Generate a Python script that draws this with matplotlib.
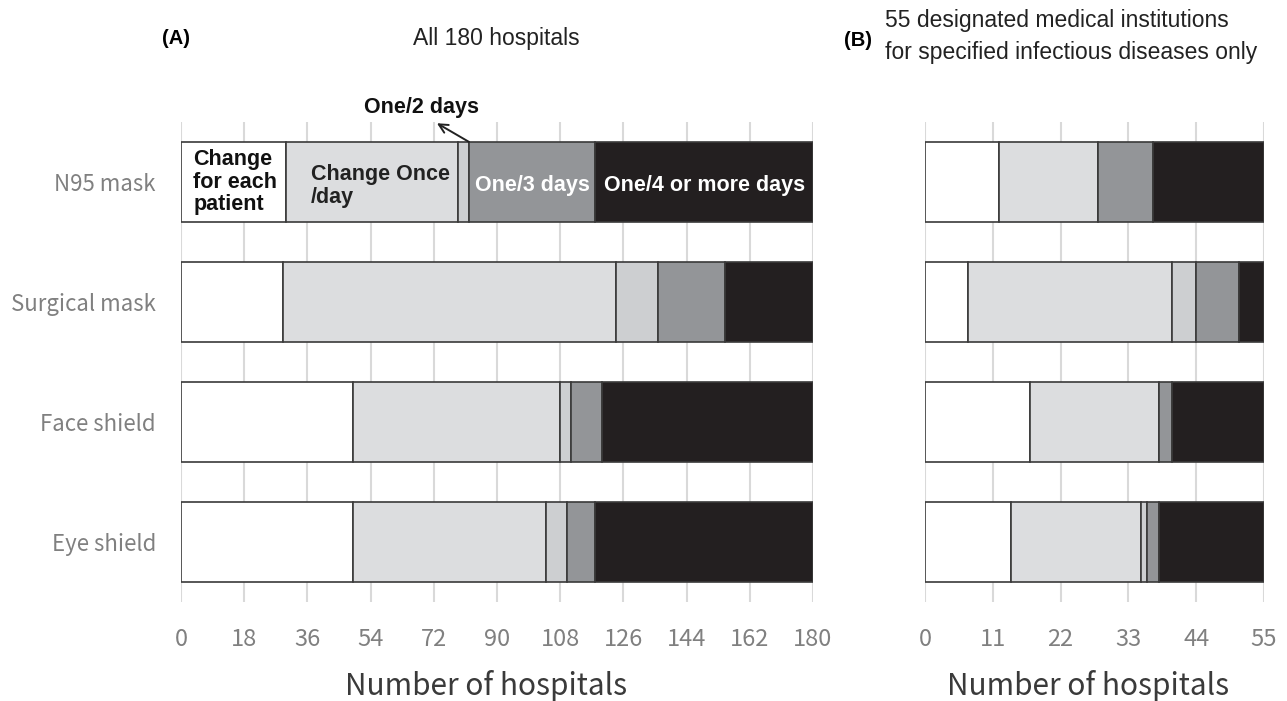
import matplotlib
matplotlib.use("Agg")
import matplotlib.pyplot as plt
import numpy as np

# PPE replacement frequency, number of hospitals per item
items = ["N95 mask", "Surgical mask", "Face shield", "Eye shield"]
freq_labels = ["Change for each patient", "Change once/day", "One/2 days",
               "One/3 days", "One/4 or more days"]

# (A) all 180 hospitals
all_each = [30, 29, 49, 49]
all_once = [49, 95, 59, 55]
all_2days = [3, 12, 3, 6]
all_3days = [36, 19, 9, 8]
all_4days = [62, 25, 60, 62]

# (B) 55 designated medical institutions
des_each = [12, 7, 17, 14]
des_once = [16, 33, 21, 21]
des_2days = [0, 4, 0, 1]
des_3days = [9, 7, 2, 2]
des_4days = [18, 4, 15, 17]

colors = ["#ffffff", "#dcdddf", "#cdcfd1", "#939598", "#231f20"]
edge = "#3a3a3a"
tick_grey = "#808080"
label_font = ["Noto Sans CJK JP", "DejaVu Sans"]
cond_font = ["Liberation Sans Narrow", "Liberation Sans", "DejaVu Sans"]

fig = plt.figure(figsize=(12.87, 7.01), dpi=100)
axA = fig.add_axes([0.1406, 0.1412, 0.4911, 0.6847])
axB = fig.add_axes([0.7187, 0.1412, 0.2634, 0.6847])


def draw_panel(ax, series, total, step, show_items):
    y = np.arange(len(items))
    left = np.zeros(len(items))
    for vals, c, name in zip(series, colors, freq_labels):
        ax.barh(y, vals, left=left, height=0.66, color=c, edgecolor=edge,
                linewidth=1.2, label=name, zorder=3)
        left += np.array(vals)
    ax.set_xlim(0, total)
    ax.set_ylim(len(items) - 0.5, -0.5)
    ax.set_xticks(np.arange(0, total + 1, step))
    ax.grid(axis="x", color="#d9d9d9", linewidth=1.5, zorder=0)
    ax.set_axisbelow(True)
    for s in ax.spines.values():
        s.set_visible(False)
    ax.tick_params(axis="both", length=0, labelcolor=tick_grey)
    ax.tick_params(axis="x", pad=19, labelsize=17)
    ax.set_yticks(y)
    if show_items:
        ax.set_yticklabels(items, fontsize=16, family=label_font)
        ax.tick_params(axis="y", pad=18)
    else:
        ax.set_yticklabels([])
    for t in ax.get_xticklabels():
        t.set_family(label_font)
    ax.set_xlabel("Number of hospitals", fontsize=21.5, color="#3a3a3a",
                  family=label_font)
    ax.xaxis.set_label_coords(0.482, -0.142)


seriesA = [all_each, all_once, all_2days, all_3days, all_4days]
seriesB = [des_each, des_once, des_2days, des_3days, des_4days]
draw_panel(axA, seriesA, 180, 18, True)
draw_panel(axB, seriesB, 55, 11, False)

# category labels written on the N95 bar of panel A
c1 = all_each[0]
c2 = c1 + all_once[0]
c3 = c2 + all_2days[0]
c4 = c3 + all_3days[0]
c5 = c4 + all_4days[0]
bold = dict(fontsize=15.5, fontweight="bold", family=cond_font, zorder=5)
axA.text(3.5, 0, "Change\nfor each\npatient", ha="left", va="center",
         color="#111111", linespacing=1.12, **bold)
axA.text(c1 + 7, 0.03, "Change Once\n/day", ha="left", va="center",
         color="#222222", linespacing=1.12, **bold)
axA.text((c3 + c4) / 2, 0.03, "One/3 days", ha="center", va="center",
         color="white", **bold)
axA.text((c4 + c5) / 2, 0.03, "One/4 or more days", ha="center",
         va="center", color="white", **bold)
axA.text(68.6, -0.625, "One/2 days", ha="center", va="center",
         color="#111111", clip_on=False, **bold)
axA.annotate("", xy=(72.9, -0.49), xytext=(c3, -0.335),
             arrowprops=dict(arrowstyle="->", color="#222222", lw=1.4,
                             shrinkA=0, shrinkB=0, mutation_scale=16),
             annotation_clip=False)

# panel headers
fig.text(176 / 1287, 1 - 38 / 701, "(A)", ha="center", va="center",
         fontsize=14.5, fontweight="bold", family=cond_font)
fig.text(496 / 1287, 1 - 38 / 701, "All 180 hospitals", ha="center",
         va="center", fontsize=16.5, family=cond_font, color="#222222")
fig.text(858 / 1287, 1 - 40 / 701, "(B)", ha="center", va="center",
         fontsize=14.5, fontweight="bold", family=cond_font)
fig.text(885 / 1287, 1 - 20 / 701, "55 designated medical institutions",
         ha="left", va="center", fontsize=16.5, family=cond_font,
         color="#222222")
fig.text(885 / 1287, 1 - 53 / 701, "for specified infectious diseases only",
         ha="left", va="center", fontsize=16.5, family=cond_font,
         color="#222222")

fig.savefig("out.png", dpi=100)
